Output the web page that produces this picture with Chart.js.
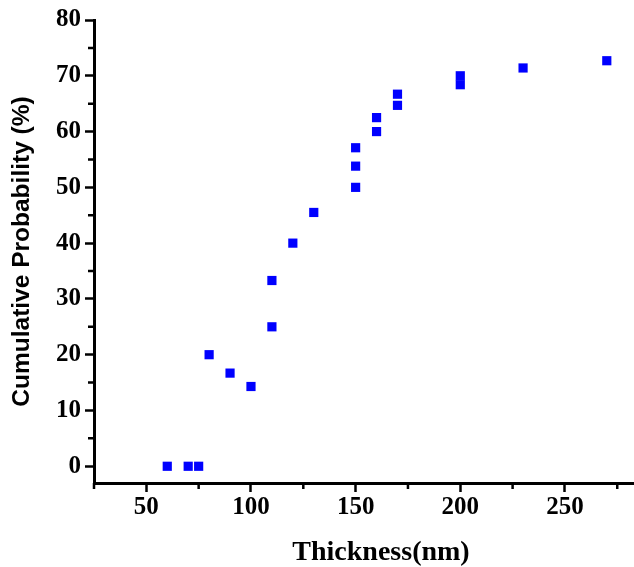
<!DOCTYPE html>
<html>
<head>
<meta charset="utf-8">
<script src="https://cdn.jsdelivr.net/npm/chart.js@4.4.0/dist/chart.umd.min.js"></script>
<style>
  html, body { margin: 0; padding: 0; background: #fff; }
  #wrap { width: 634px; height: 567px; position: relative; }
</style>
</head>
<body>
<div id="wrap"><canvas id="cdfChart"></canvas></div>
<script>
        // Thickness (nm) and cumulative probability (%)
        const thickness = [60, 70, 75, 80, 90, 100, 110, 110, 120, 130, 150, 150, 150, 160, 160, 170, 170, 200, 200, 230, 270];
        const cumulative = [0, 0, 0, 20, 16.7, 14.3, 25, 33.3, 40, 45.5, 50, 53.8, 57.1, 60, 62.5, 64.7, 66.7, 68.4, 70, 71.4, 72.7];

        // Axis ranges and labelled ticks
        const xRange = [25, 283];
        const yRange = [-3, 80];
        const xLabelTicks = [50, 100, 150, 200, 250];
        const yLabelTicks = [0, 10, 20, 30, 40, 50, 60, 70, 80];
        const xTitle = 'Thickness(nm)';

        const points = thickness.map((t, i) => ({ x: t, y: cumulative[i] }));

        // Short minor ticks between the labelled ones, plus the x title
        // (drawn here because it sits right of the axis centre in the original)
        const extras = {
            id: 'extras',
            afterDraw(chart) {
                const { ctx, scales: { x, y } } = chart;
                ctx.save();
                ctx.strokeStyle = '#000';
                ctx.lineWidth = 2.5;
                ctx.beginPath();
                x.ticks.forEach(t => {
                    if (xLabelTicks.includes(t.value)) return;
                    const px = x.getPixelForValue(t.value);
                    ctx.moveTo(px, x.top);
                    ctx.lineTo(px, x.top + 6);
                });
                y.ticks.forEach(t => {
                    if (yLabelTicks.includes(t.value)) return;
                    const py = y.getPixelForValue(t.value);
                    ctx.moveTo(y.right, py);
                    ctx.lineTo(y.right - 6, py);
                });
                ctx.stroke();

                ctx.fillStyle = '#000';
                ctx.font = 'bold 28px "Liberation Serif"';
                ctx.textAlign = 'center';
                ctx.textBaseline = 'alphabetic';
                ctx.fillText(xTitle, (x.left + x.right) / 2 + 17, 560);
                ctx.restore();
            }
        };

        const tickFont = { family: 'Liberation Serif', weight: 'bold', size: 25 };

        new Chart(document.getElementById('cdfChart').getContext('2d'), {
            type: 'scatter',
            data: {
                datasets: [{
                    label: 'Cumulative Probability',
                    data: points,
                    pointStyle: 'rect',
                    pointRadius: 6.5,
                    pointHoverRadius: 6.5,
                    backgroundColor: '#0000FF',
                    borderColor: '#0000FF',
                    borderWidth: 0,
                    clip: false
                }]
            },
            options: {
                responsive: true,
                maintainAspectRatio: false,
                animation: false,
                layout: { autoPadding: false, padding: { top: 20, right: 0, left: 0, bottom: 0 } },
                plugins: {
                    legend: { display: false },
                    tooltip: { enabled: false }
                },
                scales: {
                    x: {
                        type: 'linear',
                        min: xRange[0],
                        max: xRange[1],
                        afterFit: s => { s.height = 84; s.paddingRight = 0; s.paddingLeft = 0; },
                        border: { display: true, color: '#000', width: 3 },
                        grid: {
                            drawOnChartArea: false,
                            tickLength: 9,
                            tickWidth: 2.5,
                            tickColor: c => xLabelTicks.includes(c.tick.value) ? '#000' : 'rgba(0,0,0,0)'
                        },
                        ticks: {
                            stepSize: 25,
                            includeBounds: false,
                            autoSkip: false,
                            maxRotation: 0,
                            padding: 1,
                            color: '#000',
                            font: tickFont,
                            callback: v => xLabelTicks.includes(v) ? String(v) : ''
                        }
                    },
                    y: {
                        min: yRange[0],
                        max: yRange[1],
                        afterFit: s => { s.width = 94; },
                        border: { display: true, color: '#000', width: 3 },
                        grid: {
                            drawOnChartArea: false,
                            tickLength: 9,
                            tickWidth: 2.5,
                            tickColor: c => yLabelTicks.includes(c.tick.value) ? '#000' : 'rgba(0,0,0,0)'
                        },
                        ticks: {
                            stepSize: 5,
                            includeBounds: false,
                            autoSkip: false,
                            padding: 4,
                            color: '#000',
                            font: tickFont,
                            callback: v => yLabelTicks.includes(v) ? String(v) : ''
                        },
                        title: {
                            display: true,
                            text: 'Cumulative Probability (%)',
                            color: '#000',
                            font: { family: 'Liberation Sans', weight: 'bold', size: 24.5 },
                            padding: { top: 8, bottom: 0 }
                        }
                    }
                }
            },
            plugins: [extras]
        });
</script>
</body>
</html>
